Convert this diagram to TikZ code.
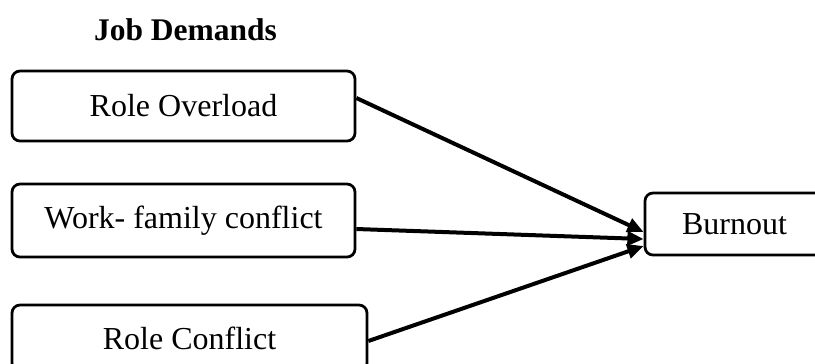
\documentclass[tikz,border=0pt]{standalone}
\usepackage{fontspec}
\setmainfont{Liberation Serif}
\usetikzlibrary{arrows.meta}
\tikzset{
  demandbox/.style={
    draw, rounded corners=3.2pt, line width=1.1pt, inner sep=0pt,
    font=\fontsize{12.8}{15}\selectfont, anchor=center
  },
  leadsto/.style={-{Triangle[length=6.5pt, width=5.6pt]}, line width=1.6pt}
}
\newcommand{\demandnode}[6]{%
  \node[demandbox, minimum width=#5, minimum height=#6] (#1) at (#3,#4) {#2};%
}

\begin{document}
\begin{tikzpicture}[x=0.4pt, y=-0.4pt]
    \useasboundingbox (0,0) rectangle (815,363);
    \clip (0,0) rectangle (815,363);
    \node[font=\fontsize{12.6}{15}\selectfont\bfseries] (title) at (185.5,30) {Job Demands};
    \demandnode{ovl}{Role Overload}{183.5}{106}{137.2pt}{28pt}
    \demandnode{wfc}{Work- family conflict}{183.5}{220.5}{137.2pt}{29.2pt}
    \demandnode{rcf}{Role Conflict}{189.5}{338}{142pt}{26.4pt}
    \demandnode{burn}{Burnout}{734.5}{224}{71.6pt}{24.8pt}
    \draw[leadsto] ([yshift=3.2pt]ovl.east) -- ([yshift=-3.2pt]burn.west);
    \draw[leadsto] ([yshift=-3.4pt]wfc.east) -- ([yshift=-6pt]burn.west);
    \draw[leadsto] ([yshift=-1.2pt]rcf.east) -- ([yshift=-8.8pt]burn.west);
\end{tikzpicture}
\end{document}
